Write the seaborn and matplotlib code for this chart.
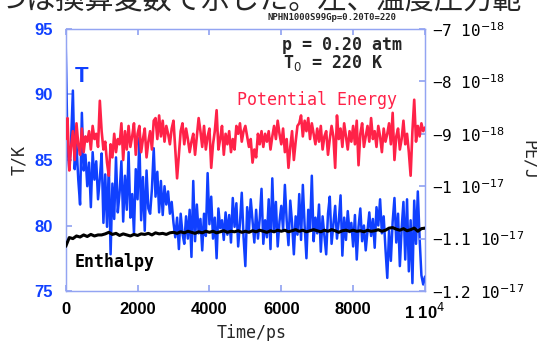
import matplotlib
matplotlib.use("Agg")
import matplotlib.pyplot as plt
import numpy as np
import pandas as pd
import seaborn as sns

# sampling grid (ps)
time_ps = np.arange(0, 10001, 50)
time_h_ps = np.arange(0, 10001, 100)

# temperature (K), left axis
temp_k = [
    93.8, 86.0, 84.3, 86.5, 90.3, 84.3, 86.2, 83.5, 81.6, 88.6,
    84.2, 85.4, 83.0, 84.8, 81.4, 85.6, 83.5, 84.9, 82.0, 83.6,
    85.5, 80.2, 83.9, 79.9, 84.6, 77.8, 83.2, 80.5, 85.2, 81.0,
    82.5, 84.9, 80.3, 83.8, 81.2, 85.6, 80.6, 82.4, 79.4, 84.3,
    82.0, 86.7, 80.4, 83.7, 79.6, 84.2, 81.3, 80.9, 82.8, 85.9,
    82.2, 84.1, 81.0, 83.4, 80.8, 83.0, 81.6, 82.6, 80.9, 81.8,
    80.2, 79.1, 80.6, 78.2, 80.9, 79.4, 78.6, 80.7, 79.0, 81.2,
    77.6, 83.4, 78.8, 81.6, 79.4, 80.5, 78.1, 80.9, 79.2, 84.0,
    80.1, 82.2, 79.0, 80.6, 77.5, 81.3, 79.8, 80.4, 78.9, 81.0,
    79.3, 80.8, 78.7, 82.1, 79.9, 81.7, 78.4, 80.2, 82.5, 79.1,
    76.9, 81.4, 79.6, 82.0, 80.3, 78.7, 81.2, 79.0, 80.5, 82.8,
    78.6, 80.4, 79.1, 82.0, 78.2, 83.6, 79.5, 81.8, 78.4, 80.3,
    81.5, 79.7, 83.1, 80.4, 78.5, 81.9, 80.2, 77.8, 80.7, 79.3,
    82.4, 78.9, 83.1, 80.0, 77.5, 81.2, 79.6, 83.8, 78.8, 80.6,
    79.4, 81.6, 78.0, 80.7, 79.2, 77.8, 80.9, 82.2, 78.6, 80.1,
    81.5, 79.0, 80.3, 82.3, 77.7, 80.6, 78.9, 81.1, 79.5, 80.2,
    78.4, 80.8, 77.4, 79.9, 81.3, 78.8, 80.0, 78.1, 79.6, 81.0,
    79.2, 80.5, 78.3, 81.4, 80.0, 82.0, 79.4, 80.7, 78.2, 76.0,
    79.6, 77.3, 80.3, 82.1, 78.7, 80.9, 76.9, 79.8, 81.8, 77.4,
    82.0, 76.5, 80.4, 75.6, 81.9, 78.6, 82.6, 79.0, 76.2, 75.5,
    76.1,
]

# potential energy (1e-18 J), right axis
pe_e18 = [
    -9.10, -8.70, -9.70, -9.25, -8.95, -9.50, -8.80, -9.20, -9.40, -8.90,
    -9.35, -9.05, -9.15, -8.95, -9.30, -8.85, -9.10, -9.00, -9.25, -8.37,
    -8.95, -9.30, -9.15, -9.55, -9.80, -9.20, -9.45, -9.00, -9.35, -9.10,
    -9.20, -8.80, -9.50, -8.95, -9.30, -8.85, -9.25, -9.05, -8.80, -9.40,
    -9.00, -8.85, -9.35, -9.10, -8.90, -9.45, -9.15, -8.95, -9.30, -8.75,
    -8.70, -9.10, -8.65, -9.05, -8.75, -9.15, -8.85, -9.00, -9.20, -8.90,
    -8.75, -9.30, -9.85, -9.40, -8.95, -8.80, -9.20, -8.90, -9.10, -9.35,
    -9.15, -9.00, -9.40, -9.05, -8.70, -8.95, -9.25, -8.85, -9.30, -9.05,
    -8.90, -9.65, -9.20, -8.95, -8.55, -9.30, -9.10, -8.85, -9.40, -9.00,
    -9.20, -8.95, -9.35, -9.10, -9.30, -8.85, -9.00, -8.80, -9.15, -8.95,
    -8.85, -9.05, -9.25, -9.10, -9.55, -9.30, -9.45, -9.00, -9.20, -8.95,
    -9.25, -9.00, -9.15, -8.95, -9.30, -9.05, -8.85, -9.10, -8.75, -9.00,
    -9.20, -8.90, -9.35, -9.10, -9.65, -9.25, -8.95, -9.50, -9.15, -8.85,
    -8.80, -8.65, -9.05, -8.75, -8.95, -8.70, -9.10, -8.80, -9.00, -9.20,
    -8.90, -9.15, -8.85, -9.30, -9.05, -8.95, -9.40, -9.10, -8.85, -9.05,
    -9.65, -8.65, -9.10, -8.90, -9.25, -8.80, -9.05, -9.30, -8.95, -9.15,
    -8.85, -9.20, -8.75, -9.60, -9.00, -8.80, -9.25, -9.05, -8.85, -9.15,
    -8.70, -9.10, -8.95, -9.25, -8.85, -9.05, -9.35, -8.90, -9.15, -9.00,
    -8.80, -9.20, -8.60, -9.50, -9.05, -8.90, -9.30, -9.10, -8.75, -9.20,
    -9.00, -9.35, -9.80, -8.95, -8.35, -9.15, -8.85, -9.05, -8.80, -8.95,
    -8.88,
]

# enthalpy (1e-18 J), right axis
enthalpy_e18 = [
    -11.15, -10.98, -11.00, -10.95, -10.97, -10.93, -10.96, -10.92, -10.95, -10.93,
    -10.93, -10.91, -10.88, -10.92, -10.90, -10.94, -10.91, -10.93, -10.95, -10.92,
    -10.94, -10.91, -10.92, -10.90, -10.93, -10.89, -10.91, -10.90, -10.92, -10.89,
    -10.88, -10.90, -10.87, -10.89, -10.86, -10.88, -10.90, -10.87, -10.89, -10.86,
    -10.88, -10.86, -10.89, -10.87, -10.85, -10.88, -10.86, -10.87, -10.85, -10.88,
    -10.86, -10.88, -10.85, -10.87, -10.84, -10.86, -10.88, -10.85, -10.87, -10.84,
    -10.86, -10.84, -10.87, -10.85, -10.83, -10.86, -10.84, -10.87, -10.85, -10.83,
    -10.85, -10.87, -10.84, -10.86, -10.83, -10.85, -10.88, -10.85, -10.84, -10.86,
    -10.84, -10.86, -10.85, -10.87, -10.84, -10.86, -10.85, -10.83, -10.86, -10.84,
    -10.80, -10.79, -10.82, -10.84, -10.81, -10.85, -10.83, -10.80, -10.86, -10.81,
    -10.80,
]

x_ticks = [0, 2000, 4000, 6000, 8000, 10000]
x_labels = ["0", "2000", "4000", "6000", "8000", "1 10$^{4}$"]
t_ticks = [75, 80, 85, 90, 95]
pe_ticks = [-12, -11, -10, -9, -8, -7]
pe_labels = ["\u22121.2 10$^{-17}$", "\u22121.1 10$^{-17}$", "\u22121 10$^{-17}$",
             "\u22129 10$^{-18}$", "\u22128 10$^{-18}$", "\u22127 10$^{-18}$"]

BLUE = "#1040ff"
RED = "#ff2248"
SPINE = "#93a4f2"
W, H = 537, 341

df_main = pd.DataFrame({"time": time_ps, "T": temp_k, "PE": pe_e18})
df_h = pd.DataFrame({"time": time_h_ps, "H": enthalpy_e18})

sns.set_theme(style="ticks")
plt.rcParams["font.family"] = ["DejaVu Sans"]

fig = plt.figure(figsize=(W / 100, H / 100), dpi=100)
ax = fig.add_axes([65.7 / W, 1 - 291 / H, (425 - 65.7) / W, (291 - 29) / H])
ax2 = ax.twinx()

sns.lineplot(data=df_main, x="time", y="T", ax=ax, color=BLUE, lw=1.8)
sns.lineplot(data=df_main, x="time", y="PE", ax=ax2, color=RED, lw=1.9)
sns.lineplot(data=df_h, x="time", y="H", ax=ax2, color="black", lw=2.2)

ax.set_xlim(0, 10000)
ax.set_ylim(75, 95)
ax2.set_ylim(-12, -7)
for a in (ax, ax2):
    a.set_xlabel("")
    a.set_ylabel("")
    for s in a.spines.values():
        s.set_color(SPINE)
        s.set_linewidth(0.9)
        s.set_zorder(0.5)

ax.set_xticks(x_ticks)
ax.set_xticklabels(x_labels, fontfamily="Liberation Sans", fontweight="bold",
                   fontsize=12, color="black")
ax.set_yticks(t_ticks)
ax.set_yticklabels([str(v) for v in t_ticks], fontfamily="Liberation Sans",
                   fontweight="bold", fontsize=12, color=BLUE)
ax.tick_params(axis="both", direction="in", length=4, color=SPINE, top=True)
ax.tick_params(axis="x", pad=8)
ax.tick_params(axis="y", pad=9)

ax2.set_yticks(pe_ticks)
ax2.set_yticklabels(pe_labels, fontfamily="DejaVu Sans Mono", fontsize=11.5, color="black")
ax2.tick_params(axis="y", direction="in", length=4, color=SPINE, pad=5)


def px(x, y):
    return x / W, 1 - y / H


fig.text(*px(19, 160), "T/K", rotation=90, ha="center", va="center",
         family="DejaVu Sans Mono", fontsize=12)
fig.text(*px(529, 160), "PE/J", rotation=270, ha="center", va="center",
         family="DejaVu Sans Mono", fontsize=12)
fig.text(*px(252, 333), "Time/ps", ha="center", va="center",
         family="DejaVu Sans Mono", fontsize=12)

fig.text(*px(82, 77), "T", ha="center", va="center", color=BLUE,
         family="Liberation Sans", fontweight="bold", fontsize=16)
fig.text(*px(237, 100), "Potential Energy", ha="left", va="center", color=RED,
         family="DejaVu Sans Mono", fontsize=12)
fig.text(*px(75, 262), "Enthalpy", ha="left", va="center", color="black",
         family="DejaVu Sans Mono", fontweight="bold", fontsize=12)
fig.text(*px(282, 45), "p = 0.20 atm", ha="left", va="center",
         family="DejaVu Sans Mono", fontweight="bold", fontsize=12)
fig.text(*px(283, 63), "T$_0$ = 220 K", ha="left", va="center",
         family="DejaVu Sans Mono", fontweight="bold", fontsize=12)
fig.text(*px(268, 18), "NPHN1000S99Gp=0.20T0=220", ha="left", va="center",
         family="DejaVu Sans Mono", fontweight="bold", fontsize=6.5)

fig.text(*px(-2, 9), "つは換算変数で示した。左、温度圧力範", ha="left", va="baseline",
         family=["Noto Sans CJK JP", "DejaVu Sans"], fontsize=21)

fig.savefig("out.png", dpi=100)
